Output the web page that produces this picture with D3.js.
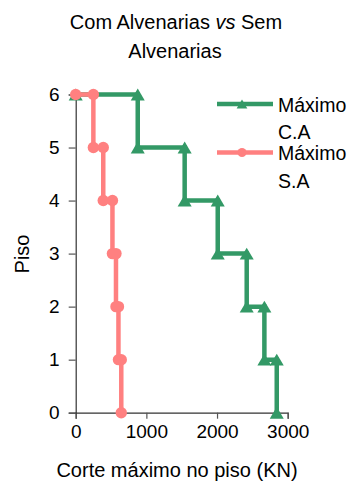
<!DOCTYPE html>
<html>
<head>
<meta charset="utf-8">
<script src="https://cdn.jsdelivr.net/npm/d3@7"></script>
<style>
  html, body { margin: 0; padding: 0; background: #fff; }
  svg { display: block; font-family: "Liberation Sans", Arial, sans-serif; }
</style>
</head>
<body>
<svg id="chart" width="354" height="492"></svg>
<script>
// Floor levels and maximum storey shear (KN), drawn as stepped profiles
const floorsCA = [6, 6, 5, 5, 4, 4, 3, 3, 2, 2, 1, 1, 0];
const shearCA  = [0, 878, 878, 1542, 1542, 2010, 2010, 2420, 2420, 2670, 2670, 2845, 2845];

const floorsSA = [6, 6, 5, 5, 4, 4, 3, 3, 2, 2, 1, 1, 0];
const shearSA  = [0, 250, 250, 390, 390, 520, 520, 570, 570, 605, 605, 645, 645];

const xTicks = [0, 1000, 2000, 3000];
const yTicks = [0, 1, 2, 3, 4, 5, 6];

const seriesNames = ["Máximo C.A", "Máximo S.A"];
const seriesColors = ["#339966", "#ff8080"];

const svg = d3.select("#chart");

const x = d3.scaleLinear().domain([0, 3000]).range([75.7, 287.7]);
const y = d3.scaleLinear().domain([0, 6]).range([412.7, 94.5]);

// triangle marker centred on its bounding box
const boxTriangle = {
  draw(ctx, size) {
    const w = Math.sqrt(size * 4 / Math.sqrt(3));
    const h = w * 0.85;
    ctx.moveTo(0, -h / 2);
    ctx.lineTo(w / 2, h / 2);
    ctx.lineTo(-w / 2, h / 2);
    ctx.closePath();
  }
};

// title
const title = svg.append("text")
  .attr("text-anchor", "middle")
  .attr("font-size", 20)
  .attr("fill", "#000");
title.append("tspan").attr("x", 176).attr("y", 29).text("Com Alvenarias ");
title.append("tspan").attr("font-style", "italic").text("vs");
title.append("tspan").text(" Sem");
title.append("tspan").attr("x", 175).attr("y", 58).text("Alvenarias");

// axes
const xAxis = svg.append("g")
  .attr("transform", `translate(0,${y(0)})`)
  .call(d3.axisBottom(x).tickValues(xTicks).tickSize(6).tickPadding(6).tickFormat(d3.format("d")));
const yAxis = svg.append("g")
  .attr("transform", `translate(${x(0)},0)`)
  .call(d3.axisLeft(y).tickValues(yTicks).tickSize(7).tickPadding(9).tickFormat(d3.format("d")));

[xAxis, yAxis].forEach(g => {
  g.select(".domain").attr("stroke", "#333").attr("stroke-width", 1.2);
  g.selectAll(".tick line").attr("stroke", "#555").attr("stroke-width", 1.2);
  g.selectAll(".tick text").attr("fill", "#000").attr("font-size", 19)
    .attr("font-family", "Liberation Sans, Arial, sans-serif");
});
xAxis.selectAll(".tick text").attr("dy", "0.71em");

// axis titles
svg.append("text")
  .attr("x", 177).attr("y", 477)
  .attr("text-anchor", "middle")
  .attr("font-size", 20)
  .text("Corte máximo no piso (KN)");
svg.append("text")
  .attr("transform", `translate(29,254) rotate(-90)`)
  .attr("text-anchor", "middle")
  .attr("font-size", 20)
  .text("Piso");

const line = d3.line().x(d => x(d[0])).y(d => y(d[1]));

// C.A series
const ca = shearCA.map((v, i) => [v, floorsCA[i]]);
svg.append("path").datum(ca)
  .attr("d", line).attr("fill", "none")
  .attr("stroke", seriesColors[0]).attr("stroke-width", 4.5)
  .attr("stroke-linejoin", "miter");
svg.append("g").selectAll("path").data(ca).join("path")
  .attr("transform", d => `translate(${x(d[0])},${y(d[1])})`)
  .attr("d", d3.symbol(boxTriangle, 85))
  .attr("fill", seriesColors[0]);

// S.A series
const sa = shearSA.map((v, i) => [v, floorsSA[i]]);
svg.append("path").datum(sa)
  .attr("d", line).attr("fill", "none")
  .attr("stroke", seriesColors[1]).attr("stroke-width", 4.5);
svg.append("g").selectAll("circle").data(sa).join("circle")
  .attr("cx", d => x(d[0])).attr("cy", d => y(d[1])).attr("r", 5.7)
  .attr("fill", seriesColors[1]);

// legend
const legend = svg.append("g");
const legendRows = [104, 152.5];
seriesNames.forEach((name, i) => {
  const g = legend.append("g").attr("transform", `translate(0,${legendRows[i]})`);
  g.append("line").attr("x1", 217).attr("x2", 273).attr("y1", 0).attr("y2", 0)
    .attr("stroke", seriesColors[i]).attr("stroke-width", 4.5);
  if (i === 0) {
    g.append("path").attr("transform", "translate(242,0)")
      .attr("d", d3.symbol(boxTriangle, 50)).attr("fill", seriesColors[i]);
  } else {
    g.append("circle").attr("cx", 242).attr("cy", 0).attr("r", 4.5).attr("fill", seriesColors[i]);
  }
  const parts = name.split(" ");
  const t = g.append("text").attr("font-size", 19.5).attr("fill", "#000");
  t.append("tspan").attr("x", 278).attr("y", 7.5).text(parts[0]);
  t.append("tspan").attr("x", 278).attr("y", 35).text(parts[1]);
});
</script>
</body>
</html>
